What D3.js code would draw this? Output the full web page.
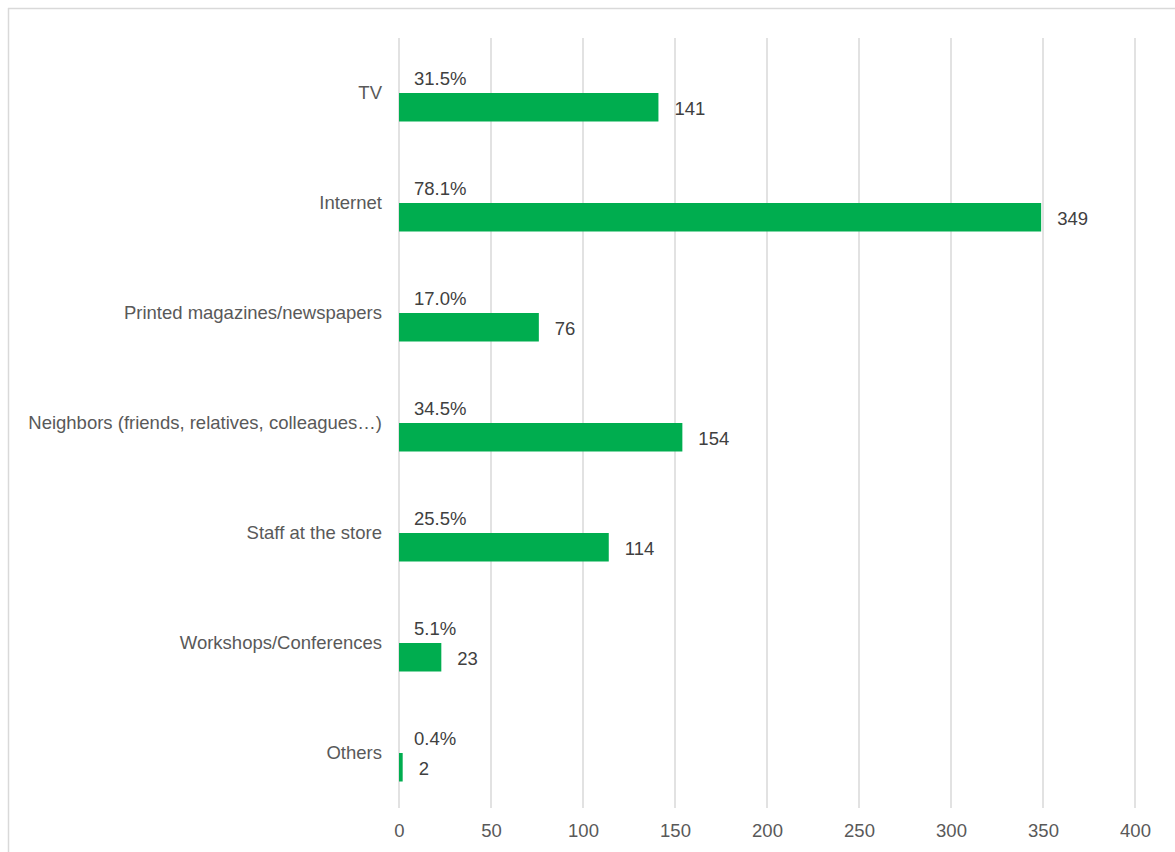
<!DOCTYPE html>
<html>
<head>
<meta charset="utf-8">
<script src="https://cdn.jsdelivr.net/npm/d3@7"></script>
<style>
  html, body { margin: 0; padding: 0; background: #fff; }
  svg { display: block; font-family: "Liberation Sans", Arial, sans-serif; }
</style>
</head>
<body>
<svg id="chart" width="1175" height="852"></svg>
<script>
// Information sources: respondent counts and share of respondents
const categories = [
  "TV",
  "Internet",
  "Printed magazines/newspapers",
  "Neighbors (friends, relatives, colleagues…)",
  "Staff at the store",
  "Workshops/Conferences",
  "Others"
];
const counts = [141, 349, 76, 154, 114, 23, 2];
const percents = [31.5, 78.1, 17.0, 34.5, 25.5, 5.1, 0.4];
const xTicks = [0, 50, 100, 150, 200, 250, 300, 350, 400];

const svg = d3.select("#chart");
const fontSize = 18.5;
const fontFamily = "'Liberation Sans', Arial, sans-serif";

// outer frame (top and left edges visible)
svg.append("line").attr("x1", 8).attr("x2", 1175).attr("y1", 8.5).attr("y2", 8.5)
  .attr("stroke", "#d9d9d9").attr("stroke-width", 1.5);
svg.append("line").attr("x1", 8.5).attr("x2", 8.5).attr("y1", 8).attr("y2", 852)
  .attr("stroke", "#d9d9d9").attr("stroke-width", 1.5);

const plot = { left: 399, right: 1135, top: 38, bottom: 808 };

const x = d3.scaleLinear().domain([0, 400]).range([plot.left, plot.right]);
const y = d3.scaleBand().domain(categories).range([plot.top, plot.bottom]);
const sub = d3.scaleBand().domain(["pct", "count"])
  .range([y.bandwidth() / 2 - 28.5, y.bandwidth() / 2 + 28.5]);

// vertical gridlines
svg.append("g").selectAll("line").data(xTicks).join("line")
  .attr("x1", d => x(d)).attr("x2", d => x(d))
  .attr("y1", plot.top).attr("y2", plot.bottom)
  .attr("stroke", "#d9d9d9").attr("stroke-width", 1.5);

// x axis tick labels
const xAxis = d3.axisBottom(x).tickValues(xTicks).tickSize(0).tickPadding(0);
const gx = svg.append("g").attr("transform", `translate(0,${plot.bottom})`).call(xAxis);
gx.select(".domain").remove();
gx.attr("font-family", null).attr("font-size", null);
gx.selectAll("text")
  .attr("y", 23).attr("dy", "0.35em")
  .attr("fill", "#595959")
  .style("font-size", fontSize + "px")
  .style("font-family", fontFamily);

// category labels
const yAxis = d3.axisLeft(y).tickSize(0).tickPadding(0);
const gy = svg.append("g").attr("transform", `translate(${plot.left - 17},0)`).call(yAxis);
gy.select(".domain").remove();
gy.attr("font-family", null).attr("font-size", null);
gy.selectAll("text")
  .attr("dy", "0.35em")
  .attr("fill", "#595959")
  .style("font-size", fontSize + "px")
  .style("font-family", fontFamily);

const rows = categories.map((c, i) => ({ c, n: counts[i], p: percents[i] }));

// count bars
svg.append("g").selectAll("rect").data(rows).join("rect")
  .attr("x", x(0))
  .attr("y", d => y(d.c) + sub("count"))
  .attr("width", d => x(d.n) - x(0))
  .attr("height", sub.bandwidth())
  .attr("fill", "#00ad4f");

// count labels
svg.append("g").selectAll("text").data(rows).join("text")
  .attr("x", d => x(d.n) + 16)
  .attr("y", d => y(d.c) + sub("count") + sub.bandwidth() / 2 + 1)
  .attr("dy", "0.35em")
  .attr("fill", "#404040")
  .style("font-size", fontSize + "px")
  .style("font-family", fontFamily)
  .text(d => d.n);

// percentage labels
svg.append("g").selectAll("text").data(rows).join("text")
  .attr("x", x(0) + 15)
  .attr("y", d => y(d.c) + sub("pct") + sub.bandwidth() / 2)
  .attr("dy", "0.35em")
  .attr("fill", "#404040")
  .style("font-size", fontSize + "px")
  .style("font-family", fontFamily)
  .text(d => d.p.toFixed(1) + "%");
</script>
</body>
</html>
